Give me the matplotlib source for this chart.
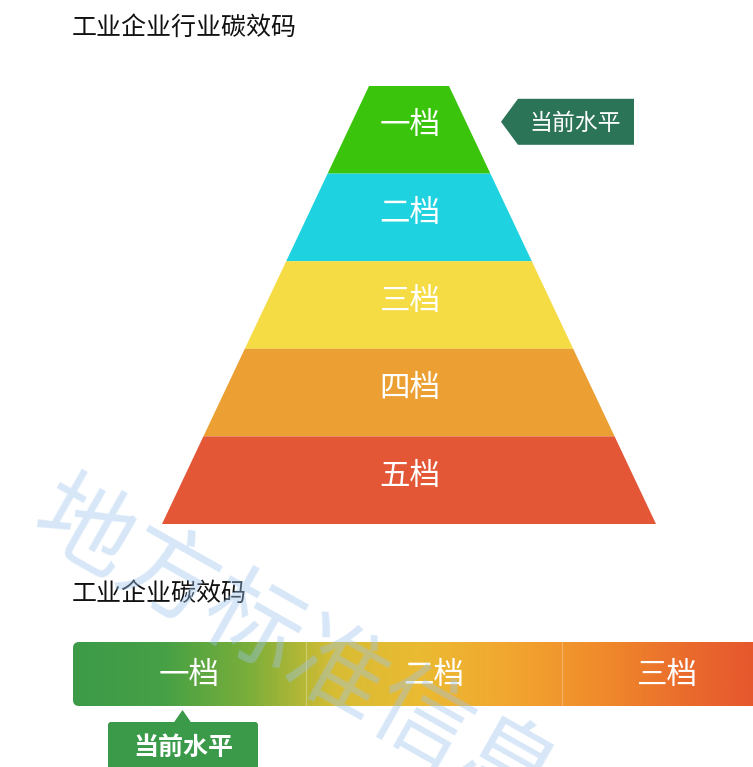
import numpy as np
import matplotlib.pyplot as plt
from matplotlib.patches import Polygon, FancyBboxPatch
from matplotlib.colors import LinearSegmentedColormap

plt.rcParams['font.family'] = ['Noto Sans CJK SC', 'DejaVu Sans']

# ------------------------------
# data
# ------------------------------
title_top = "工业企业行业碳效码"
title_bottom = "工业企业碳效码"
pyramid_labels = ["一档", "二档", "三档", "四档", "五档"]
pyramid_colors = ["#3ac40c", "#1fd2e0", "#f5dc45", "#eca033", "#e35636"]
pyramid_current = 0
bar_labels = ["一档", "二档", "三档"]
bar_edges = [73, 306, 562, 772]
bar_current = 0
tag_text = "当前水平"
watermark = "地方标准信息"
grad_colors = ["#3d9a48", "#45a046", "#7aae3a", "#d8bd34", "#ebba32", "#f2a630",
               "#f08c2b", "#ea6c2d", "#e5522d"]

W, H = 753, 767
fig = plt.figure(figsize=(W / 100, H / 100), dpi=100)
ax = fig.add_axes([0, 0, 1, 1])
ax.set_xlim(0, W)
ax.set_ylim(H, 0)
ax.axis('off')

# ------------------------------
# titles
# ------------------------------
ax.text(72, 28, title_top, fontsize=18, va='center', ha='left', color='#111111')
ax.text(72, 594, title_bottom, fontsize=18, va='center', ha='left', color='#111111')

# ------------------------------
# pyramid
# ------------------------------
cx, top_y, bot_y = 409, 86, 524
top_hw, bot_hw = 40, 247
n = len(pyramid_labels)
band = (bot_y - top_y) / n

def half_width(y):
    return top_hw + (bot_hw - top_hw) * (y - top_y) / (bot_y - top_y)

for i, (lab, col) in enumerate(zip(pyramid_labels, pyramid_colors)):
    y0 = top_y + i * band
    y1 = y0 + band
    pts = [(cx - half_width(y0), y0), (cx + half_width(y0), y0),
           (cx + half_width(y1), y1), (cx - half_width(y1), y1)]
    ax.add_patch(Polygon(pts, closed=True, facecolor=col, edgecolor='none'))
    ax.text(cx + 1, (y0 + y1) / 2 - 4, lab, fontsize=22, color='white', ha='center', va='center')

# current level tag on the pyramid
yc = top_y + (pyramid_current + 0.5) * band - 8
tag_col = "#2b7457"
tag = Polygon([(501, yc), (518, yc - 23), (634, yc - 23), (634, yc + 23), (518, yc + 23)],
              closed=True, facecolor=tag_col, edgecolor='none')
ax.add_patch(tag)
ax.text(575, yc + 2, tag_text, fontsize=16.5, color='white', ha='center', va='center')

# ------------------------------
# gradient bar
# ------------------------------
bar_y0, bar_y1 = 642, 706
bar_x0, bar_x1 = bar_edges[0], bar_edges[-1]
cmap = LinearSegmentedColormap.from_list("carbon", grad_colors)
grad = np.linspace(0, 1, 512).reshape(1, -1)
im = ax.imshow(grad, cmap=cmap, aspect='auto',
               extent=[bar_x0, bar_x1, bar_y1, bar_y0], zorder=2)
clip = FancyBboxPatch((bar_x0, bar_y0), bar_x1 - bar_x0, bar_y1 - bar_y0,
                      boxstyle="round,pad=0,rounding_size=6",
                      facecolor='none', edgecolor='none')
ax.add_patch(clip)
im.set_clip_path(clip)

for i, lab in enumerate(bar_labels):
    xa, xb = bar_edges[i], bar_edges[i + 1]
    if i > 0:
        ax.plot([xa, xa], [bar_y0, bar_y1], color='white', alpha=0.3, lw=0.8, zorder=3)
    ax.text((xa + xb) / 2, (bar_y0 + bar_y1) / 2 + 2, lab, fontsize=22,
            color='white', ha='center', va='center', zorder=4)

# current level tag under the bar
tx = (bar_edges[bar_current] + bar_edges[bar_current + 1]) / 2 - 7
tag2_col = "#3a9a4a"
ax.add_patch(FancyBboxPatch((108, 722), 150, 60, boxstyle="round,pad=0,rounding_size=3",
                            facecolor=tag2_col, edgecolor='none', zorder=3))
ax.add_patch(Polygon([(tx - 9, 723), (tx, 710), (tx + 9, 723)], closed=True,
                     facecolor=tag2_col, edgecolor='none', zorder=3))
ax.text(183, 748, tag_text, fontsize=18, color='white', ha='center', va='center',
        fontweight='bold', zorder=4)

# ------------------------------
# watermark
# ------------------------------
ax.text(294, 652, watermark, fontsize=70, color='#9cc4ee', alpha=0.4,
        rotation=-29.5, ha='center', va='center', zorder=5)

fig.savefig("out.png", dpi=100)
